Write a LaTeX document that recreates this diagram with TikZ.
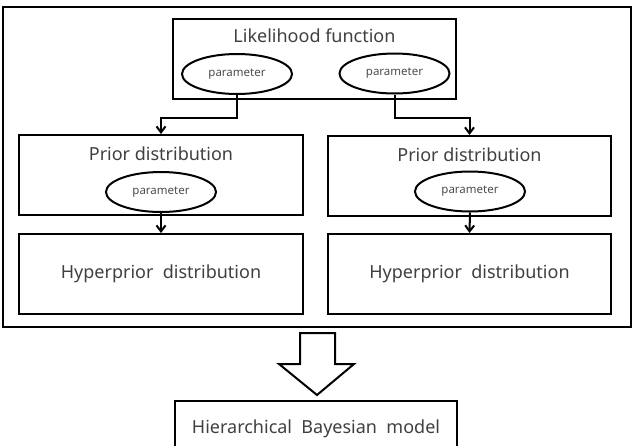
\documentclass[tikz,border=0pt]{standalone}
\usepackage{fontspec}
\setmainfont{Noto Sans}
\usetikzlibrary{shapes,arrows.meta}
\usetikzlibrary{positioning,calc}

\begin{document}
\begin{tikzpicture}[x=1pt,y=-1pt,every text node part/.style={align=center}]
\tikzset{myFont/.style={font=\fontsize{18}{21}\selectfont,text=black!75}}
\tikzset{mySmall/.style={font=\fontsize{11.5}{13}\selectfont,text=black!70}}
\tikzset{myBox/.style={draw,line width=2pt,minimum height=80pt,myFont,inner sep=0pt}}
\tikzset{myParam/.style={draw,ellipse,line width=2pt,minimum width=110pt,minimum height=40pt,mySmall,inner sep=0pt}}
\tikzset{myArrow/.style={line width=2pt,-{Straight Barb[length=6pt,width=9pt]}}}

\useasboundingbox (0,0) rectangle (638,445);
\clip (0,0) rectangle (638,445);

% frame around the whole model
\node[draw,line width=2pt,minimum width=628pt,minimum height=320pt] (outer) at (317,167) {};

% likelihood with its two parameters
\node[myBox,minimum width=283pt,label={[myFont,anchor=center,yshift=-18pt]north:Likelihood function}] (lik) at (314.5,59) {};
\node[myParam] (likP1) at (237,74) {parameter};
\node[myParam] (likP2) at (394.5,73.5) {parameter};

% priors
\node[myBox,minimum width=284pt,label={[myFont,anchor=center,yshift=-20pt]north:Prior distribution}] (priorL) at (161,175) {};
\node[myBox,minimum width=283pt,label={[myFont,anchor=center,yshift=-20pt]north:Prior distribution}] (priorR) at (469.5,176) {};
\node[myParam] (priorLP) at (161,192) {parameter};
\node[myParam] (priorRP) at (470,191.5) {parameter};

% hyperpriors
\node[myBox,minimum width=284pt] (hypL) at (161,274) {Hyperprior~ distribution};
\node[myBox,minimum width=283pt] (hypR) at (469.5,274) {Hyperprior~ distribution};

\draw[myArrow] (likP1.south) -- ++(0,23) -| (priorL.north);
\draw[myArrow] (likP2.south) -- ++(0,23) -| (priorR.north);
\draw[myArrow] (priorLP.south) -- (hypL.north);
\draw[myArrow] (priorRP.south) -- (hypR.north);

% resulting model
\node[myBox,minimum width=282pt,minimum height=56pt] (model) at (316,429) {Hierarchical~ Bayesian~ model};

% block arrow between frame and model
\draw[line width=2pt,line join=miter] (300,333) -- (335,333) -- (335,364) -- (354,364)
  -- (317,395) -- (279,364) -- (300,364) -- cycle;

\end{tikzpicture}
\end{document}
